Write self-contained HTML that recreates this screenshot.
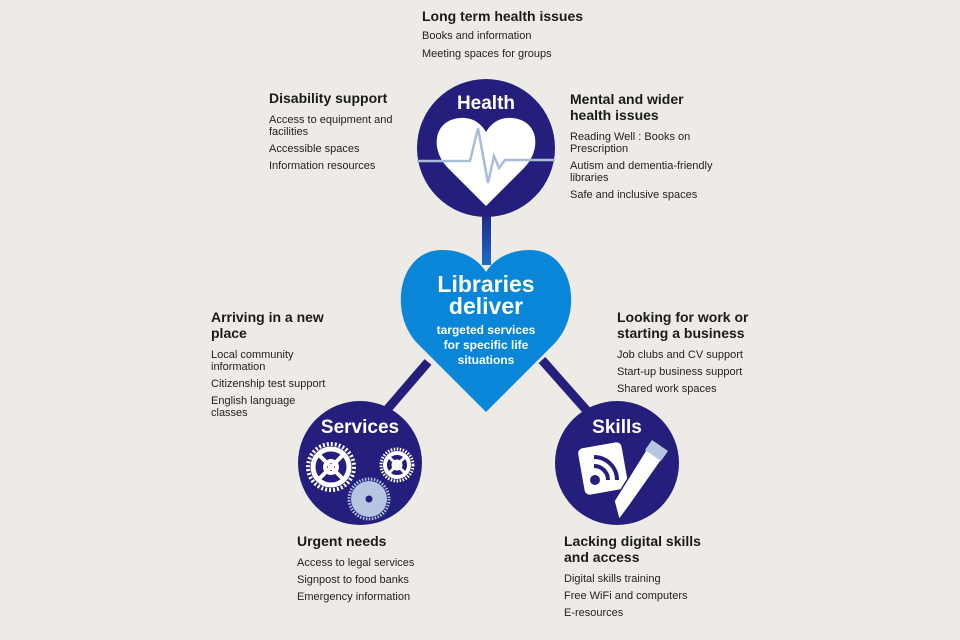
<!DOCTYPE html>
<html><head><meta charset="utf-8"><style>
body{margin:0;width:960px;height:640px;background:#eeebe6;position:relative;overflow:hidden;font-family:"Liberation Sans",sans-serif;color:#1a1a1a}
.t{position:absolute}
.h{font-weight:bold;font-size:14px;line-height:16px;margin-bottom:8px}
.b{font-size:11px;line-height:12px;margin-bottom:5px;color:#222}
svg{position:absolute;left:0;top:0}
</style></head><body>
<svg width="960" height="640" viewBox="0 0 960 640">
<defs>
<linearGradient id="vg" x1="0" y1="0" x2="0" y2="1"><stop offset="0" stop-color="#231e7d"/><stop offset="1" stop-color="#1a6fc8"/></linearGradient>
</defs>
<rect x="482" y="210" width="9" height="55" fill="url(#vg)"/>
<line x1="428" y1="362" x2="385" y2="412" stroke="#241f7c" stroke-width="9"/>
<line x1="542" y1="360" x2="588" y2="412" stroke="#241f7c" stroke-width="9"/>
<circle cx="486" cy="148" r="69" fill="#241f7c"/>
<path d="M486,206 L448,168 C430,150 433,120 460,118 C474,117 482,125 486,132 C490,125 498,117 512,118 C539,120 542,150 524,168 Z" fill="#fff"/>
<path d="M417,161 L470,161 L478,128 L488,183 L494,156 L499,168 L505,160 L555,160" fill="none" stroke="#a9bcd8" stroke-width="2.5"/>
<text x="486" y="109" text-anchor="middle" fill="#fff" font-family="Liberation Sans" font-weight="bold" font-size="19">Health</text>
<path d="M486,412 L418,344 C388,314 398,250 442,250 C466,250 480,262 486,272 C492,262 506,250 530,250 C574,250 584,314 554,344 Z" fill="#0a86d8"/>
<text x="486" y="292" text-anchor="middle" fill="#fff" font-weight="bold" font-size="23">Libraries</text>
<text x="486" y="314" text-anchor="middle" fill="#fff" font-weight="bold" font-size="23">deliver</text>
<text x="486" y="334" text-anchor="middle" fill="#fff" font-weight="bold" font-size="12">targeted services</text>
<text x="486" y="349" text-anchor="middle" fill="#fff" font-weight="bold" font-size="12">for specific life</text>
<text x="486" y="364" text-anchor="middle" fill="#fff" font-weight="bold" font-size="12">situations</text>
<circle cx="360" cy="463" r="62" fill="#241f7c"/>
<text x="360" y="433" text-anchor="middle" fill="#fff" font-weight="bold" font-size="19">Services</text>
<g fill="none" stroke="#fff">
<circle cx="331" cy="467" r="23" stroke-width="4" stroke-dasharray="2 2"/>
<circle cx="331" cy="467" r="18" stroke-width="5"/>
<circle cx="331" cy="467" r="6" stroke-width="4"/>
<path d="M319,455 L343,479 M343,455 L319,479" stroke-width="4"/>
<circle cx="397" cy="465" r="16" stroke-width="3" stroke-dasharray="1.5 1.5"/>
<circle cx="397" cy="465" r="12" stroke-width="4"/>
<circle cx="397" cy="465" r="4" stroke-width="3"/>
<path d="M389,457 L405,473 M405,457 L389,473" stroke-width="3"/>
</g>
<circle cx="369" cy="499" r="18" fill="#b6c6e0"/>
<circle cx="369" cy="499" r="20" fill="none" stroke="#b6c6e0" stroke-width="3" stroke-dasharray="1.5 1.5"/>
<circle cx="369" cy="499" r="3.5" fill="#241f7c"/>
<circle cx="617" cy="463" r="62" fill="#241f7c"/>
<text x="617" y="433" text-anchor="middle" fill="#fff" font-weight="bold" font-size="19">Skills</text>
<rect x="581" y="445" width="44" height="47" rx="5" fill="#fff" transform="rotate(-10 603 468)"/>
<circle cx="595" cy="480" r="5" fill="#241f7c"/>
<path d="M594,466 A14,14 0 0 1 608,480 M594,457 A23,23 0 0 1 617,480" fill="none" stroke="#241f7c" stroke-width="4"/>
<path d="M652,440 L668,451 L630,505 L619,520 L614,501 Z" fill="#fff" stroke="#241f7c" stroke-width="1.5"/>
<path d="M652,440 L668,451 L661,461 L645,450 Z" fill="#b6c6e0"/>
</svg>
<div class="t" style="left:422px;top:8px"><div class="h" style="margin-bottom:6px">Long term health issues</div><div class="b" style="margin-bottom:6px">Books and information</div><div class="b">Meeting spaces for groups</div></div>
<div class="t" style="left:269px;top:90px"><div class="h">Disability support</div><div class="b">Access to equipment and<br>facilities</div><div class="b">Accessible spaces</div><div class="b">Information resources</div></div>
<div class="t" style="left:570px;top:91px"><div class="h">Mental and wider<br>health issues</div><div class="b">Reading Well : Books on<br>Prescription</div><div class="b">Autism and dementia-friendly<br>libraries</div><div class="b">Safe and inclusive spaces</div></div>
<div class="t" style="left:211px;top:309px"><div class="h">Arriving in a new<br>place</div><div class="b">Local community<br>information</div><div class="b">Citizenship test support</div><div class="b">English language<br>classes</div></div>
<div class="t" style="left:617px;top:309px"><div class="h">Looking for work or<br>starting a business</div><div class="b">Job clubs and CV support</div><div class="b">Start-up business support</div><div class="b">Shared work spaces</div></div>
<div class="t" style="left:297px;top:533px"><div class="h">Urgent needs</div><div class="b">Access to legal services</div><div class="b">Signpost to food banks</div><div class="b">Emergency information</div></div>
<div class="t" style="left:564px;top:533px"><div class="h">Lacking digital skills<br>and access</div><div class="b">Digital skills training</div><div class="b">Free WiFi and computers</div><div class="b">E-resources</div></div>
</body></html>
